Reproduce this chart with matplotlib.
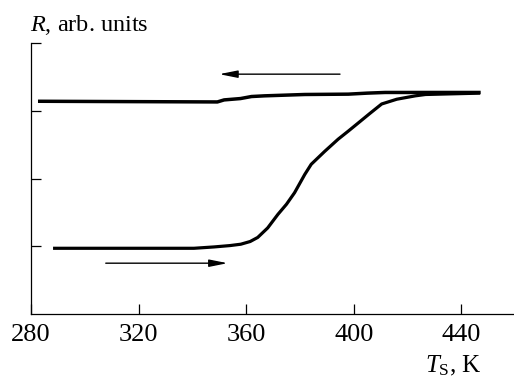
import matplotlib
matplotlib.use("Agg")
import matplotlib.pyplot as plt

plt.rcParams['font.family'] = ['Liberation Serif', 'DejaVu Serif']
plt.rcParams['mathtext.fontset'] = 'custom'
plt.rcParams['mathtext.rm'] = 'Liberation Serif'
plt.rcParams['mathtext.it'] = 'Liberation Serif:italic'

# Heating run (lower branch)
heat_T = [288.2, 340.6, 348.1, 354.0, 358.0, 361.5, 364.3, 368.0, 371.8, 375.0,
          378.0, 381.8, 384.2, 389.2, 394.2, 398.0, 401.7, 406.0, 410.4, 416.0,
          422.9, 426.7, 447.0]
heat_R = [0.97, 0.97, 0.99, 1.01, 1.03, 1.07, 1.13, 1.27, 1.47, 1.62,
          1.79, 2.06, 2.21, 2.40, 2.58, 2.70, 2.82, 2.96, 3.10, 3.17,
          3.22, 3.24, 3.26]

# Cooling run (upper branch)
cool_T = [282.6, 349.3, 351.8, 357.9, 362.0, 366.8, 381.8, 398.0, 405.0, 411.7, 447.2]
cool_R = [3.14, 3.13, 3.16, 3.18, 3.21, 3.22, 3.24, 3.245, 3.26, 3.27, 3.27]

x_ticks = [280, 320, 360, 400, 440]
y_ticks = [1, 2, 3, 4]

fig = plt.figure(figsize=(5.14, 3.79), dpi=100)
ax = fig.add_axes([31/514, 65/379, 1 - 31/514, 271/379])

ax.plot(heat_T, heat_R, color='black', lw=2.3, solid_capstyle='butt')
ax.plot(cool_T, cool_R, color='black', lw=2.5, solid_capstyle='butt')

# direction arrows
arrow_kw = dict(arrowstyle='-|>,head_length=1.1,head_width=0.22', color='black', lw=1.0,
                shrinkA=0, shrinkB=0)
ax.annotate('', xy=(350.0, 3.54), xytext=(394.9, 3.54), arrowprops=arrow_kw)
ax.annotate('', xy=(353.1, 0.75), xytext=(307.8, 0.75), arrowprops=arrow_kw)

ax.set_xlim(280, 459.6)
ax.set_ylim(0, 4)
ax.set_xticks(x_ticks)
ax.set_yticks(y_ticks)
ax.set_yticklabels([])
ax.tick_params(direction='in', length=7.5, width=0.9, labelsize=19, pad=6)
ax.tick_params(axis='x', pad=7)
for s in ['top', 'right']:
    ax.spines[s].set_visible(False)
for s in ['left', 'bottom']:
    ax.spines[s].set_linewidth(0.9)

fig.text(30/514, 1 - 31/379, '$R$, arb. units', fontsize=17.5, ha='left', va='baseline')
fig.text(482/514, 1 - 372/379, r'$T_{\rm S}$, K', fontsize=18, ha='right', va='baseline')

fig.savefig('out.png', dpi=100)
